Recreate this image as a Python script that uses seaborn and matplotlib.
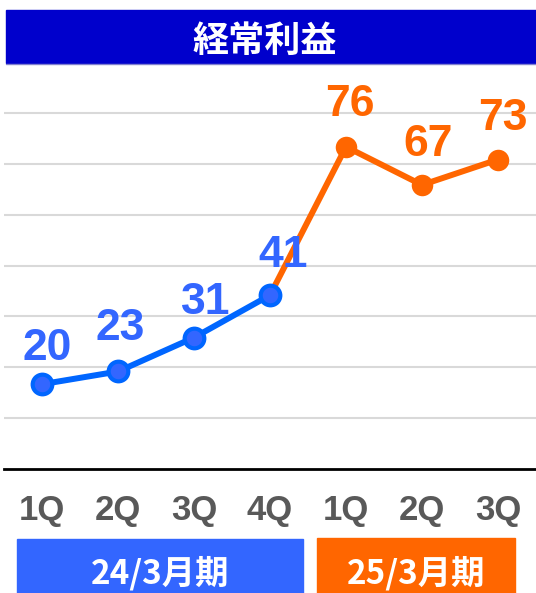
import matplotlib
matplotlib.use("Agg")
import matplotlib.pyplot as plt
import seaborn as sns
import pandas as pd
from matplotlib.patches import Rectangle
from matplotlib.lines import Line2D

# データ
quarters = ["1Q", "2Q", "3Q", "4Q", "1Q", "2Q", "3Q"]
fy24_values = [20, 23, 31, 41]
fy25_values = [76, 67, 73]
period_labels = ["24/3月期", "25/3月期"]
title = "経常利益"

BLUE_LINE = "#0066ff"
BLUE = "#3366ff"
ORANGE = "#ff6600"
W, H = 536, 593

sns.set_style("white")
plt.rcParams["font.family"] = ["Liberation Sans", "Noto Sans CJK JP"]

fy24 = pd.DataFrame({"pos": range(len(fy24_values)), "value": fy24_values})
fy25 = pd.DataFrame({"pos": range(len(fy24_values), len(quarters)), "value": fy25_values})
# 24/3期の最終点から25/3期へつなぐ線
bridge = pd.concat([fy24.tail(1), fy25], ignore_index=True)

fig = plt.figure(figsize=(W / 100, H / 100), dpi=100)
ax = fig.add_axes([4 / W, (H - 469) / H, 532 / W, (469 - 62) / H])

sns.lineplot(data=bridge, x="pos", y="value", color=ORANGE, lw=4.3, ax=ax, zorder=2)
sns.lineplot(data=fy24, x="pos", y="value", color=BLUE_LINE, lw=4.3, ax=ax, zorder=3)
sns.scatterplot(data=fy24, x="pos", y="value", color=BLUE, edgecolor=BLUE_LINE,
                linewidth=3, s=200, ax=ax, zorder=4)
sns.scatterplot(data=fy25, x="pos", y="value", color=ORANGE, edgecolor=ORANGE,
                linewidth=0, s=240, ax=ax, zorder=4)

# データラベル（ピクセル単位のずれ）
label_dx = [5, 2, 12, 13, 4, 6, 5]
label_dy = [36, 43, 35, 40, 42, 40, 41]
all_vals = fy24_values + fy25_values
for i, v in enumerate(all_vals):
    c = BLUE if i < len(fy24_values) else ORANGE
    ax.annotate(str(v), (i, v), xytext=(label_dx[i] * 0.72, label_dy[i] * 0.72),
                textcoords="offset points", ha="center", va="center",
                fontsize=32, fontweight="bold", color=c, zorder=6)

ax.set_xlim(-0.5, len(quarters) - 0.5)
ax.set_ylim(0, 96)
ax.set_yticks(range(12, 96, 12))
ax.yaxis.grid(True, color="#d9d9d9", lw=1.5)
ax.set_yticklabels([])
ax.tick_params(axis="y", length=0)
ax.set_xticks(range(len(quarters)))
ax.set_xticklabels(quarters, fontsize=25, fontweight="bold", color="#595959")
ax.tick_params(axis="x", length=0, pad=18)
ax.set_xlabel("")
ax.set_ylabel("")
for s in ["top", "left", "right"]:
    ax.spines[s].set_visible(False)
ax.spines["bottom"].set_color("black")
ax.spines["bottom"].set_linewidth(2)

# タイトルバー
fig.add_artist(Rectangle((6 / W, (H - 63) / H), 530 / W, 53 / H,
                         transform=fig.transFigure, color="#0000cc", zorder=10))
fig.add_artist(Line2D([6 / W, 1], [(H - 64) / H] * 2, transform=fig.transFigure,
                      color="#8080d0", lw=1, zorder=10))
fig.text(265 / W, 1 - 41 / H, title, ha="center", va="center", fontsize=26,
         fontweight="bold", color="white", family=["Noto Sans CJK JP"], zorder=11)

# 期間ラベル
boxes = [(17, 303, 539, BLUE), (317, 515, 538, ORANGE)]
for (x0, x1, y0, c), lab in zip(boxes, period_labels):
    fig.add_artist(Rectangle((x0 / W, 0), (x1 - x0) / W, (H - y0) / H,
                             transform=fig.transFigure, color=c, zorder=10))
    fig.text((x0 + x1) / 2 / W, 1 - 573 / H, lab, ha="center", va="center",
             fontsize=24, fontweight="bold", color="white",
             family=["Noto Sans CJK JP"], zorder=11)

fig.savefig("out.png", dpi=100)
